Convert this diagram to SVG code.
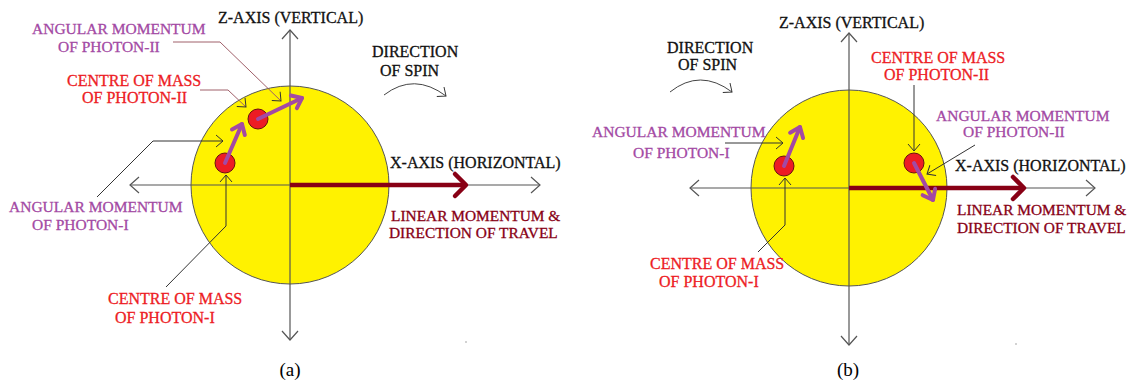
<svg xmlns="http://www.w3.org/2000/svg" width="1138" height="383" viewBox="0 0 1138 383">
<style>
text{font-family:"Liberation Serif","Times New Roman",serif;font-size:16px;stroke-width:0.3}
.blk{fill:#111;stroke:#111}
.red{fill:#ED1C24;stroke:#ED1C24}
.pur{fill:#A349A4;stroke:#A349A4;font-size:15.5px}
.dred{fill:#880015;stroke:#880015;font-size:15.4px}
.cap{font-size:19px;fill:#000;text-anchor:middle}
.ball{fill:#FFF200;stroke:#555;stroke-width:1}
.axis{stroke:#555;stroke-width:1.2;fill:none;marker-end:url(#ah)}
.lead{stroke:#333;stroke-width:1;fill:none;marker-end:url(#lh)}
.leadr{stroke:#A0606A;stroke-width:1;fill:none;marker-end:url(#lh)}
.spin{stroke:#444;stroke-width:1;fill:none;marker-end:url(#lh)}
.dot{fill:#ED1C24;stroke:#6a1010;stroke-width:1}
.am{stroke:#A349A4;stroke-width:4;stroke-linecap:round;fill:none;marker-end:url(#ph)}
.lm{stroke:#880015;stroke-width:4.5;fill:none;marker-end:url(#rh)}
</style>
<defs>
<marker id="ah" markerUnits="userSpaceOnUse" viewBox="-12 -10 14 20" refX="0" refY="0" markerWidth="14" markerHeight="20" orient="auto" overflow="visible">
<path d="M-9,-8 L0,0 L-9,8" fill="none" stroke="#555" stroke-width="1.2"/>
</marker>
<marker id="lh" markerUnits="userSpaceOnUse" viewBox="-10 -8 12 16" refX="0" refY="0" markerWidth="12" markerHeight="16" orient="auto" overflow="visible">
<path d="M-7,-6 L0,0 L-7,6" fill="none" stroke="#333" stroke-width="1"/>
</marker>
<marker id="ph" markerUnits="userSpaceOnUse" viewBox="-14 -12 16 24" refX="0" refY="0" markerWidth="16" markerHeight="24" orient="auto" overflow="visible">
<path d="M-9,-7 L0,0 L-9,7" fill="none" stroke="#A349A4" stroke-width="4" stroke-linecap="round" stroke-linejoin="round"/>
</marker>
<marker id="rh" markerUnits="userSpaceOnUse" viewBox="-14 -14 16 28" refX="0" refY="0" markerWidth="16" markerHeight="28" orient="auto" overflow="visible">
<path d="M-11,-11 L0,0 L-11,11" fill="none" stroke="#880015" stroke-width="4.5" stroke-linecap="round" stroke-linejoin="round"/>
</marker>
</defs>

<!-- ===== Diagram (a) ===== -->
<g id="a-body">
<circle class="ball" cx="290" cy="185" r="99"/>
</g>
<g id="a-axes">
<line class="axis" x1="290" y1="185" x2="290" y2="30"/>
<line class="axis" x1="290" y1="185" x2="290" y2="340"/>
<line class="axis" x1="290" y1="185" x2="540" y2="185"/>
<line class="axis" x1="290" y1="185" x2="130" y2="185"/>
</g>
<g id="a-photon1"><circle class="dot" cx="225" cy="163" r="10"/></g>
<g id="a-photon2"><circle class="dot" cx="258" cy="119" r="10"/></g>
<g id="a-connectors">
<line class="lm" x1="290" y1="185" x2="466" y2="185"/>
<line class="am" x1="225" y1="163" x2="242" y2="124"/>
<line class="am" x1="258" y1="119" x2="302" y2="98"/>
<polyline class="leadr" points="173,42 220,42 281,101"/>
<polyline class="leadr" points="200,90 228,90 246,107"/>
<polyline class="lead" points="97,197 153,141 223,141"/>
<polyline class="lead" points="166,287 226,226 226,175"/>
<path class="spin" d="M384,95 Q414,72 446,96"/>
</g>
<g id="a-labels">
<text class="blk" x="218" y="23">Z-AXIS (VERTICAL)</text>
<text class="pur" x="32" y="34">ANGULAR MOMENTUM</text>
<text class="pur" x="58" y="52">OF PHOTON-II</text>
<text class="red" x="67" y="86">CENTRE OF MASS</text>
<text class="red" x="82" y="103">OF PHOTON-II</text>
<text class="blk" x="372" y="57">DIRECTION</text>
<text class="blk" x="380" y="76">OF SPIN</text>
<text class="blk" x="390" y="168">X-AXIS (HORIZONTAL)</text>
<text class="pur" x="9" y="212">ANGULAR MOMENTUM</text>
<text class="pur" x="32" y="230">OF PHOTON-I</text>
<text class="dred" x="391" y="221">LINEAR MOMENTUM &amp;</text>
<text class="dred" x="389" y="238">DIRECTION OF TRAVEL</text>
<text class="red" x="108" y="304">CENTRE OF MASS</text>
<text class="red" x="115" y="323">OF PHOTON-I</text>
<text class="cap" x="290" y="376">(a)</text>
<circle cx="466" cy="342" r="0.8" fill="#999"/>
</g>

<!-- ===== Diagram (b) ===== -->
<g id="b-body">
<circle class="ball" cx="849" cy="188" r="98"/>
</g>
<g id="b-axes">
<line class="axis" x1="849" y1="188" x2="849" y2="33"/>
<line class="axis" x1="849" y1="188" x2="849" y2="345"/>
<line class="axis" x1="849" y1="188" x2="1095" y2="188"/>
<line class="axis" x1="849" y1="188" x2="690" y2="188"/>
</g>
<g id="b-photon1"><circle class="dot" cx="784" cy="166" r="10"/></g>
<g id="b-photon2"><circle class="dot" cx="914" cy="163" r="10"/></g>
<g id="b-connectors">
<line class="lm" x1="849" y1="188" x2="1024" y2="188"/>
<line class="am" x1="784" y1="166" x2="800" y2="127"/>
<line class="am" x1="914" y1="163" x2="933" y2="200"/>
<polyline class="lead" points="725,143 783,143"/>
<polyline class="lead" points="758,252 785,225 785,178"/>
<polyline class="lead" points="914,85 914,151"/>
<polyline class="lead" points="975,145 927,174"/>
<path class="spin" d="M670,92 Q700,68 732,92"/>
</g>
<g id="b-labels">
<text class="blk" x="779" y="28">Z-AXIS (VERTICAL)</text>
<text class="blk" x="667" y="53">DIRECTION</text>
<text class="blk" x="678" y="70">OF SPIN</text>
<text class="pur" x="592" y="137">ANGULAR MOMENTUM</text>
<text class="pur" x="633" y="158">OF PHOTON-I</text>
<text class="red" x="871" y="63">CENTRE OF MASS</text>
<text class="red" x="884" y="80">OF PHOTON-II</text>
<text class="pur" x="936" y="121">ANGULAR MOMENTUM</text>
<text class="pur" x="963" y="137">OF PHOTON-II</text>
<text class="blk" x="955" y="171">X-AXIS (HORIZONTAL)</text>
<text class="dred" x="957" y="215">LINEAR MOMENTUM &amp;</text>
<text class="dred" x="957" y="233">DIRECTION OF TRAVEL</text>
<text class="red" x="650" y="269">CENTRE OF MASS</text>
<text class="red" x="659" y="287">OF PHOTON-I</text>
<text class="cap" x="848" y="376">(b)</text>
<circle cx="1016" cy="344" r="0.8" fill="#999"/>
</g>
</svg>
